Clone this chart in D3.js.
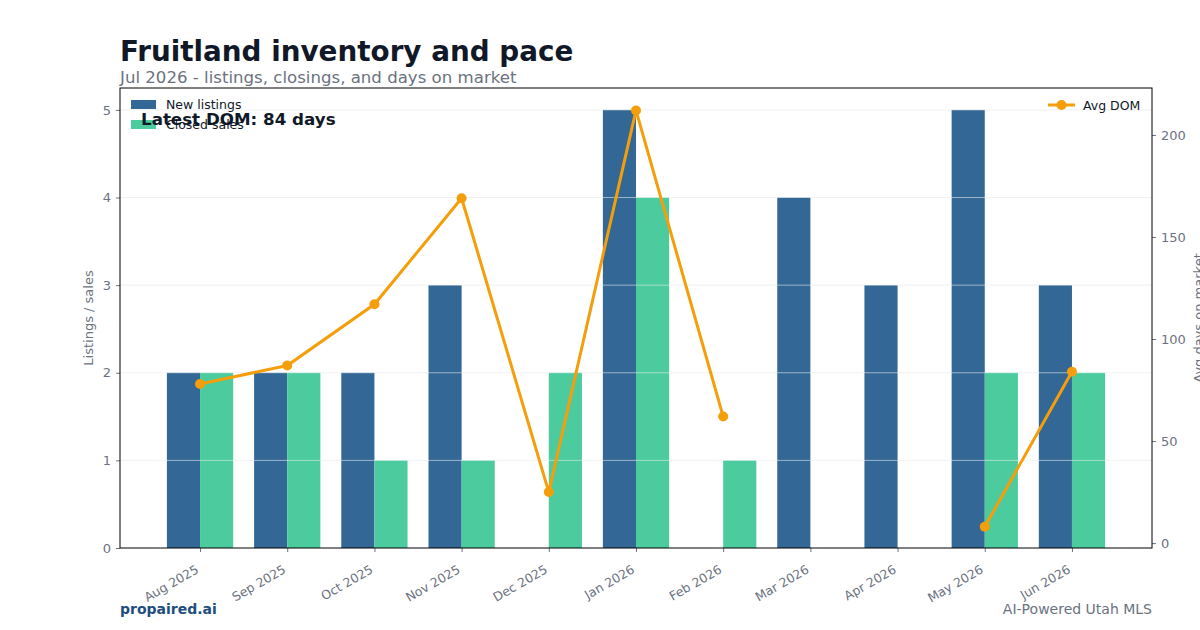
<!DOCTYPE html>
<html>
<head>
<meta charset="utf-8">
<script src="https://cdn.jsdelivr.net/npm/d3@7"></script>
<style>
  body { margin: 0; background: #fff; }
  text { font-family: "DejaVu Sans", sans-serif; }
</style>
</head>
<body>
<div id="chart"></div>
<script>
const months = ["Aug 2025", "Sep 2025", "Oct 2025", "Nov 2025", "Dec 2025", "Jan 2026",
    "Feb 2026", "Mar 2026", "Apr 2026", "May 2026", "Jun 2026"]
const newListings = [2, 2, 2, 3, 0, 5, 0, 4, 3, 5, 3]
const closedSales = [2, 2, 1, 1, 2, 4, 1, 0, 0, 2, 2]
const avgDom = [78, 87, 117, 169, 25, 212, 62, null, null, 8, 84]
const leftTicks = [0, 1, 2, 3, 4, 5]
const rightTicks = [0, 50, 100, 150, 200]

const width = 1200, height = 630
const margin = { left: 120, right: 48, top: 88, bottom: 82 }
const plotW = width - margin.left - margin.right
const plotH = height - margin.top - margin.bottom
const barW = 0.38

const svg = d3.select("#chart").append("svg")
    .attr("width", width)
    .attr("height", height)

const g = svg.append("g")
    .attr("transform", "translate(" + margin.left + "," + margin.top + ")")

// index scale with matplotlib-like margins
const x = d3.scaleLinear().domain([-0.918, months.length - 1 + 0.918]).range([0, plotW])
const y = d3.scaleLinear().domain([0, 5.25]).range([plotH, 0])
const y2 = d3.scaleLinear().domain([-2.4, 223]).range([plotH, 0])

// bars
g.selectAll(".new").data(newListings).enter().append("rect")
    .attr("x", (d, i) => x(i - barW))
    .attr("width", x(barW) - x(0))
    .attr("y", d => y(d))
    .attr("height", d => plotH - y(d))
    .attr("fill", "#336795")

g.selectAll(".closed").data(closedSales).enter().append("rect")
    .attr("x", (d, i) => x(i))
    .attr("width", x(barW) - x(0))
    .attr("y", d => y(d))
    .attr("height", d => plotH - y(d))
    .attr("fill", "#4ccc9e")

// grid on top of bars
g.selectAll(".grid").data(leftTicks.slice(1)).enter().append("line")
    .attr("x1", 0).attr("x2", plotW)
    .attr("y1", d => y(d)).attr("y2", d => y(d))
    .attr("stroke", "#e5e7eb")
    .attr("stroke-opacity", 0.6)
    .attr("stroke-width", 1)

// axes
const gray = "#6b7280"
const styleAxis = (sel) => {
    sel.select(".domain").remove()
    sel.selectAll(".tick line").attr("stroke", gray)
    sel.selectAll(".tick text").attr("fill", gray).style("font-size", "13px")
        .style("font-family", "DejaVu Sans, sans-serif")
}

const xAxis = g.append("g")
    .attr("transform", "translate(0," + plotH + ")")
    .call(d3.axisBottom(x).tickValues(d3.range(months.length)).tickFormat(i => months[i]).tickSizeOuter(0).tickSize(4))
xAxis.call(styleAxis)
xAxis.selectAll(".tick text")
    .style("font-size", "12.5px")
    .attr("text-anchor", "end")
    .attr("x", 0).attr("y", 0).attr("dy", 0).attr("dx", 0)
    .attr("transform", "translate(-1,24) rotate(-30)")

g.append("g")
    .call(d3.axisLeft(y).tickValues(leftTicks).tickFormat(d3.format("d")).tickSize(4).tickPadding(5))
    .call(styleAxis)

g.append("g")
    .attr("transform", "translate(" + plotW + ",0)")
    .call(d3.axisRight(y2).tickValues(rightTicks).tickSize(4).tickPadding(5))
    .call(styleAxis)

// frame
g.append("rect")
    .attr("width", plotW).attr("height", plotH)
    .attr("fill", "none").attr("stroke", "#000").attr("stroke-width", 1)

// DOM line
const line = d3.line()
    .defined(d => d != null)
    .x((d, i) => x(i))
    .y(d => y2(d))

g.append("path")
    .datum(avgDom)
    .attr("d", line)
    .attr("fill", "none")
    .attr("stroke", "#f59e0b")
    .attr("stroke-width", 3)

g.selectAll(".dot").data(avgDom.map((d, i) => [d, i]).filter(d => d[0] != null)).enter().append("circle")
    .attr("cx", d => x(d[1]))
    .attr("cy", d => y2(d[0]))
    .attr("r", 5)
    .attr("fill", "#f59e0b")

// axis labels
svg.append("text")
    .attr("transform", "translate(93," + (margin.top + plotH / 2) + ") rotate(-90)")
    .attr("text-anchor", "middle")
    .attr("fill", gray)
    .style("font-size", "13px")
    .text("Listings / sales")

svg.append("text")
    .attr("transform", "translate(1203," + (margin.top + plotH / 2) + ") rotate(-90)")
    .attr("text-anchor", "middle")
    .attr("fill", gray)
    .style("font-size", "13px")
    .text("Avg days on market")

// legends
const legL = svg.append("g").attr("transform", "translate(131,100)")
legL.append("rect").attr("width", 25).attr("height", 9).attr("fill", "#336795")
legL.append("text").attr("x", 35).attr("y", 9).attr("fill", "#111827").style("font-size", "12.5px").text("New listings")
legL.append("rect").attr("y", 20).attr("width", 25).attr("height", 9).attr("fill", "#4ccc9e")
legL.append("text").attr("x", 35).attr("y", 29).attr("fill", "#111827").style("font-size", "12.5px").text("Closed sales")

const legR = svg.append("g").attr("transform", "translate(1048,105)")
legR.append("line").attr("x1", 0).attr("x2", 27).attr("stroke", "#f59e0b").attr("stroke-width", 3)
legR.append("circle").attr("cx", 13.5).attr("r", 5).attr("fill", "#f59e0b")
legR.append("text").attr("x", 35).attr("y", 4.5).attr("fill", "#111827").style("font-size", "12.5px").text("Avg DOM")

svg.append("text")
    .attr("x", 141).attr("y", 125)
    .attr("fill", "#111827")
    .style("font-size", "16.7px").style("font-weight", "bold")
    .text("Latest DOM: " + avgDom[avgDom.length - 1] + " days")

// titles
svg.append("text")
    .attr("x", 120).attr("y", 61)
    .attr("fill", "#111827")
    .style("font-size", "27.8px").style("font-weight", "bold")
    .text("Fruitland inventory and pace")

svg.append("text")
    .attr("x", 120).attr("y", 83)
    .attr("fill", gray)
    .style("font-size", "16.6px")
    .text("Jul 2026 - listings, closings, and days on market")

// footer
svg.append("text")
    .attr("x", 120).attr("y", 614)
    .attr("fill", "#1e4e7e")
    .style("font-size", "14px").style("font-weight", "bold")
    .text("propaired.ai")

svg.append("text")
    .attr("x", 1152).attr("y", 614)
    .attr("text-anchor", "end")
    .attr("fill", gray)
    .style("font-size", "14px")
    .text("AI-Powered Utah MLS")
</script>
</body>
</html>
